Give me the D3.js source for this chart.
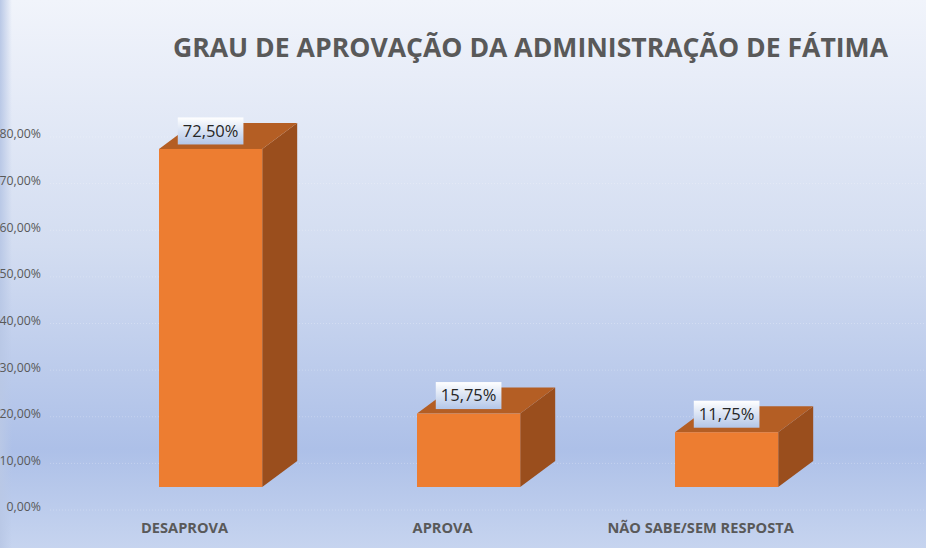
<!DOCTYPE html>
<html>
<head>
<meta charset="utf-8">
<script src="https://cdn.jsdelivr.net/npm/d3@7"></script>
<style>
  html, body { margin: 0; padding: 0; }
  body { width: 926px; height: 548px; overflow: hidden; }
  text { font-family: "Open Sans", sans-serif; }
</style>
</head>
<body>
<div id="chart"></div>
<script>
// data
const categories = ['DESAPROVA', 'APROVA', 'NÃO SABE/SEM RESPOSTA'];
const values = [72.5, 15.75, 11.75];
const valueLabels = ['72,50%', '15,75%', '11,75%'];
const yTicks = [0, 10, 20, 30, 40, 50, 60, 70, 80];
const title = 'GRAU DE APROVAÇÃO DA ADMINISTRAÇÃO DE FÁTIMA';

const width = 926, height = 548;
const depthX = 35, depthY = 26, lift = 20; // fake 3d

const svg = d3.select('#chart')
    .append('svg')
    .attr('width', width)
    .attr('height', height);

const defs = svg.append('defs');
const bg = defs.append('linearGradient')
    .attr('id', 'bg')
    .attr('x1', 0).attr('y1', 0).attr('x2', 0).attr('y2', 1);
bg.append('stop').attr('offset', '0%').attr('stop-color', '#f1f4fb');
bg.append('stop').attr('offset', '45%').attr('stop-color', '#d3ddf1');
bg.append('stop').attr('offset', '82%').attr('stop-color', '#adc0e8');
bg.append('stop').attr('offset', '100%').attr('stop-color', '#c6d4ef');

const lab = defs.append('linearGradient')
    .attr('id', 'lab')
    .attr('x1', 0).attr('y1', 0).attr('x2', 0).attr('y2', 1);
lab.append('stop').attr('offset', '0%').attr('stop-color', '#ffffff');
lab.append('stop').attr('offset', '100%').attr('stop-color', '#b3c6e8');

const edge = defs.append('linearGradient')
    .attr('id', 'edge')
    .attr('x1', 0).attr('y1', 0).attr('x2', 1).attr('y2', 0);
edge.append('stop').attr('offset', '0%').attr('stop-color', '#b9c8e6');
edge.append('stop').attr('offset', '100%').attr('stop-color', '#b9c8e6').attr('stop-opacity', 0);

svg.append('rect')
    .attr('width', width).attr('height', height)
    .attr('fill', 'url(#bg)');
svg.append('rect')
    .attr('width', 12).attr('height', height)
    .attr('fill', 'url(#edge)');

const xScale = d3.scaleBand()
    .domain(categories)
    .range([81.6, 855.6])
    .paddingInner(0.6)
    .paddingOuter(0.3);

const yScale = d3.scaleLinear()
    .domain([0, 80])
    .range([507, 134]);

// faint gridlines
svg.append('g')
    .selectAll('line')
    .data(yTicks)
    .join('line')
    .attr('x1', 50)
    .attr('x2', width)
    .attr('y1', d => yScale(d) + 3)
    .attr('y2', d => yScale(d) + 3)
    .attr('stroke', '#ffffff')
    .attr('stroke-opacity', 0.25)
    .attr('stroke-dasharray', '1,2');

// y axis labels
const yAxis = d3.axisLeft(yScale)
    .tickValues(yTicks)
    .tickSize(0)
    .tickPadding(0)
    .tickFormat(d => d3.format('.2f')(d).replace('.', ',') + '%');

svg.append('g')
    .attr('class', 'y-axis')
    .attr('transform', 'translate(41,0)')
    .call(yAxis)
    .call(g => g.select('.domain').remove())
    .call(g => g.selectAll('text')
        .attr('fill', '#595959')
        .style('font-size', '12.3px')
        .style('font-family', '"Open Sans", sans-serif'));

// bars
const rows = categories.map((c, i) => ({cat: c, value: values[i], label: valueLabels[i]}));
const base = yScale(0) - lift;
const bw = xScale.bandwidth();

const bars = svg.append('g')
    .selectAll('g')
    .data(rows)
    .join('g');

bars.append('path') // side
    .attr('fill', '#9a4e1d')
    .attr('d', d => {
        const x1 = xScale(d.cat) + bw, top = yScale(d.value) - lift;
        return `M${x1},${base}L${x1 + depthX},${base - depthY}L${x1 + depthX},${top - depthY}L${x1},${top}Z`;
    });

bars.append('path') // top
    .attr('fill', '#b45e24')
    .attr('d', d => {
        const x0 = xScale(d.cat), x1 = x0 + bw, top = yScale(d.value) - lift;
        return `M${x0},${top}L${x0 + depthX},${top - depthY}L${x1 + depthX},${top - depthY}L${x1},${top}Z`;
    });

bars.append('rect') // front
    .attr('fill', '#ed7d31')
    .attr('x', d => xScale(d.cat))
    .attr('width', bw)
    .attr('y', d => yScale(d.value) - lift)
    .attr('height', d => base - (yScale(d.value) - lift));

// value labels
const vl = bars.append('g')
    .attr('transform', d => `translate(${xScale(d.cat) + bw / 2},${yScale(d.value) - lift - 18})`);

vl.append('text')
    .attr('text-anchor', 'middle')
    .attr('dy', '0.35em')
    .attr('fill', '#262626')
    .style('font-size', '16.5px')
    .text(d => d.label)
    .each(function () {
        const b = this.getBBox();
        d3.select(this.parentNode).insert('rect', 'text')
            .attr('x', b.x - 5)
            .attr('y', -13.5)
            .attr('width', b.width + 10)
            .attr('height', 27)
            .attr('fill', 'url(#lab)');
    });

// category labels
svg.append('g')
    .selectAll('text')
    .data(categories)
    .join('text')
    .attr('x', d => xScale(d) + bw / 2 - 26)
    .attr('y', 533)
    .attr('text-anchor', 'middle')
    .attr('fill', '#595959')
    .style('font-size', '14.6px')
    .style('font-weight', 'bold')
    .text(d => d);

// title
svg.append('text')
    .attr('x', 530.5)
    .attr('y', 57)
    .attr('text-anchor', 'middle')
    .attr('fill', '#595959')
    .style('font-size', '26.6px')
    .style('font-weight', 'bold')
    .text(title);
</script>
</body>
</html>
